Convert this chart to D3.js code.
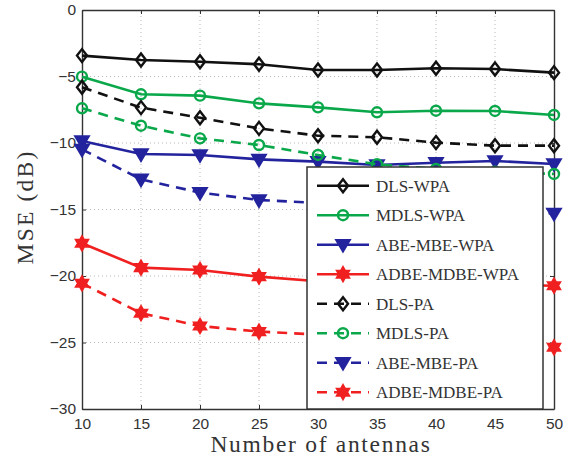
<!DOCTYPE html>
<html>
<head>
<meta charset="utf-8">
<script src="https://cdn.jsdelivr.net/npm/d3@7"></script>
<style>
  html, body { margin: 0; padding: 0; background: #fff; }
  svg { display: block; }
  .serif { font-family: "Liberation Serif"; }
  .sans { font-family: "Liberation Sans"; }
</style>
</head>
<body>
<svg id="chart" width="571" height="457"></svg>
<script>
// Number of antennas
const antennas = [10, 15, 20, 25, 30, 35, 40, 45, 50];

// MSE (dB) per estimator
const dlsWpa      = [-3.43, -3.76, -3.89, -4.08, -4.51, -4.51, -4.38, -4.44, -4.71];
const mdlsWpa     = [-5.01, -6.34, -6.44, -7.02, -7.32, -7.69, -7.57, -7.59, -7.89];
const abeMbeWpa   = [-9.85, -10.83, -10.90, -11.23, -11.40, -11.65, -11.48, -11.35, -11.58];
const adbeMdbeWpa = [-17.54, -19.37, -19.55, -20.05, -20.40, -20.50, -20.60, -20.65, -20.73];
const dlsPa       = [-5.81, -7.34, -8.10, -8.90, -9.45, -9.57, -9.97, -10.20, -10.20];
const mdlsPa      = [-7.39, -8.70, -9.65, -10.15, -10.90, -11.60, -11.95, -12.15, -12.33];
const abeMbePa    = [-10.48, -12.73, -13.73, -14.29, -14.50, -14.70, -14.95, -15.10, -15.30];
const adbeMdbePa  = [-20.55, -22.80, -23.76, -24.18, -24.40, -24.70, -24.90, -25.10, -25.36];

const seriesNames = ["DLS-WPA", "MDLS-WPA", "ABE-MBE-WPA", "ADBE-MDBE-WPA",
                     "DLS-PA", "MDLS-PA", "ABE-MBE-PA", "ADBE-MDBE-PA"];
const seriesValues = [dlsWpa, mdlsWpa, abeMbeWpa, adbeMdbeWpa,
                      dlsPa, mdlsPa, abeMbePa, adbeMdbePa];

const xTicks = [10, 15, 20, 25, 30, 35, 40, 45, 50];
const yTicks = [0, -5, -10, -15, -20, -25, -30];

// Styles per series
const colors  = ["#111111", "#0aa84a", "#23239e", "#f02020",
                 "#111111", "#0aa84a", "#23239e", "#f02020"];
const markers = ["diamond", "circle", "triangle", "hexagram",
                 "diamond", "circle", "triangle", "hexagram"];
const dashed  = [false, false, false, false, true, true, true, true];

const svg = d3.select("#chart");
const margin = { left: 82, right: 17, top: 10, bottom: 48 };
const W = 571, H = 457;
const x = d3.scaleLinear().domain([10, 50]).range([margin.left, W - margin.right]);
const y = d3.scaleLinear().domain([-30, 0]).range([H - margin.bottom, margin.top]);

const x0 = x.range()[0], x1 = x.range()[1];
const y0 = y.range()[0], y1 = y.range()[1];

// Dotted grid
const grid = svg.append("g").attr("stroke", "#b8b8b8").attr("stroke-width", 1)
  .attr("stroke-dasharray", "1,3");
grid.selectAll("line.gx").data(xTicks.slice(1, -1)).enter().append("line")
  .attr("x1", d => x(d)).attr("x2", d => x(d)).attr("y1", y0).attr("y2", y1);
grid.selectAll("line.gy").data(yTicks.slice(1, -1)).enter().append("line")
  .attr("x1", x0).attr("x2", x1).attr("y1", d => y(d)).attr("y2", d => y(d));

// Axes (inward ticks on all four sides)
const axB = svg.append("g").attr("transform", `translate(0,${y0})`)
  .call(d3.axisBottom(x).tickValues(xTicks).tickSizeInner(-4).tickSizeOuter(0).tickPadding(9));
const axL = svg.append("g").attr("transform", `translate(${x0},0)`)
  .call(d3.axisLeft(y).tickValues(yTicks).tickSizeInner(-4).tickSizeOuter(0).tickPadding(6)
    .tickFormat(d => d === 0 ? "0" : "\u2212" + Math.abs(d)));
const axT = svg.append("g").attr("transform", `translate(0,${y1})`)
  .call(d3.axisTop(x).tickValues(xTicks).tickSizeInner(-4).tickSizeOuter(0).tickFormat(""));
const axR = svg.append("g").attr("transform", `translate(${x1},0)`)
  .call(d3.axisRight(y).tickValues(yTicks).tickSizeInner(-4).tickSizeOuter(0).tickFormat(""));
[axB, axL, axT, axR].forEach(a => {
  a.attr("font-family", null).attr("font-size", null);
  a.select(".domain").attr("stroke", "#333").attr("stroke-width", 1.4);
  a.selectAll(".tick line").attr("stroke", "#333").attr("stroke-width", 1);
  a.selectAll(".tick text").attr("class", "sans").attr("fill", "#333").style("font-size", "15.5px");
});

// Marker shapes
function markerPath(type) {
  if (type === "diamond") return "M0,-6.5L5,0L0,6.5L-5,0Z";
  if (type === "triangle") return "M-6.5,-4.5L6.5,-4.5L0,6.5Z";
  if (type === "hexagram") {
    const R = 7.5, r = R / Math.sqrt(3);
    const pts = d3.range(12).map(i => {
      const a = -Math.PI / 2 + i * Math.PI / 6;
      const rad = i % 2 === 0 ? R : r;
      return [rad * Math.cos(a), rad * Math.sin(a)];
    });
    return "M" + pts.map(p => p.join(",")).join("L") + "Z";
  }
  return null;
}
function drawMarker(g, type, color, cx, cy) {
  if (type === "circle") {
    g.append("circle").attr("cx", cx).attr("cy", cy).attr("r", 5)
      .attr("fill", "none").attr("stroke", color).attr("stroke-width", 2.4);
  } else {
    const filled = type === "hexagram" || type === "triangle";
    g.append("path").attr("d", markerPath(type))
      .attr("transform", `translate(${cx},${cy})`)
      .attr("fill", filled ? color : "none")
      .attr("stroke", color).attr("stroke-width", type === "hexagram" ? 1.6 : 2.4)
      .attr("stroke-linejoin", "miter");
  }
}

// Series lines and markers
const line = d3.line().x((d, i) => x(antennas[i])).y(d => y(d));
const plot = svg.append("g");
seriesValues.forEach((vals, k) => {
  const g = plot.append("g");
  g.append("path").datum(vals).attr("d", line)
    .attr("fill", "none").attr("stroke", colors[k]).attr("stroke-width", 2.6)
    .attr("stroke-dasharray", dashed[k] ? "10,7" : null);
  vals.forEach((v, i) => drawMarker(g, markers[k], colors[k], x(antennas[i]), y(v)));
});

// Legend
const lg = svg.append("g");
const lgX = 307, lgY = 167, lgW = 236, lgH = 242;
lg.append("rect").attr("x", lgX).attr("y", lgY).attr("width", lgW).attr("height", lgH)
  .attr("fill", "#fff").attr("stroke", "#333").attr("stroke-width", 1.5);
seriesNames.forEach((name, k) => {
  const ry = 185.7 + k * 29.5;
  const g = lg.append("g");
  g.append("line").attr("x1", 317).attr("x2", 369).attr("y1", ry).attr("y2", ry)
    .attr("stroke", colors[k]).attr("stroke-width", 2.6)
    .attr("stroke-dasharray", dashed[k] ? "10,7" : null);
  drawMarker(g, markers[k], colors[k], 343, ry);
  g.append("text").attr("class", "serif").attr("x", 376).attr("y", ry + 6).text(name)
    .attr("fill", "#333").style("font-size", "17px");
});

// Axis titles
svg.append("text").attr("class", "serif").attr("x", (x0 + x1) / 2 + 3).attr("y", 452)
  .attr("text-anchor", "middle").attr("fill", "#333")
  .style("font-size", "23.5px").style("letter-spacing", "1.7px").text("Number of antennas");
svg.append("text").attr("class", "serif").attr("transform", `translate(33,207) rotate(-90)`)
  .attr("text-anchor", "middle").attr("fill", "#333")
  .style("font-size", "23.5px").style("letter-spacing", "2.2px").text("MSE (dB)");
</script>
</body>
</html>
